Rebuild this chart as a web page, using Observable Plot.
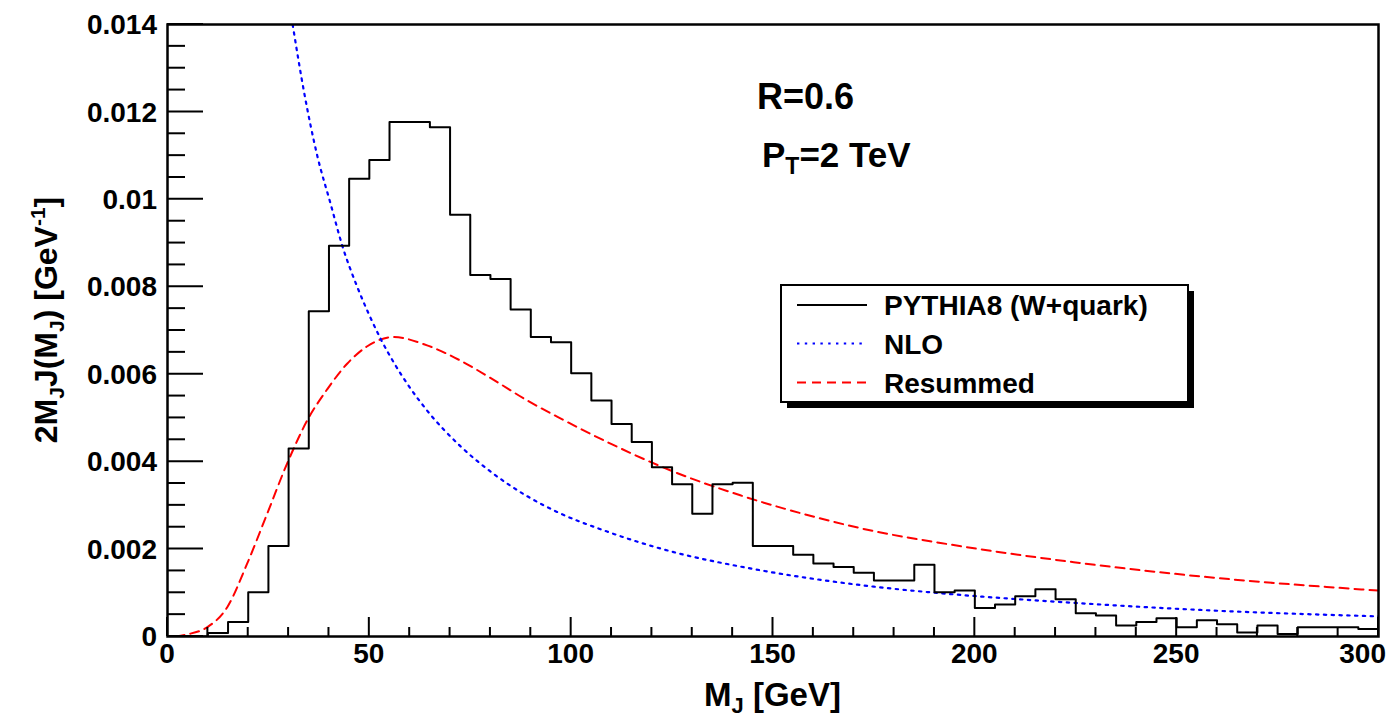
<!DOCTYPE html>
<html>
<head>
<meta charset="utf-8">
<script src="https://cdn.jsdelivr.net/npm/d3@7"></script>
<script src="https://cdn.jsdelivr.net/npm/@observablehq/plot@0.6"></script>
<style>
  html, body { margin: 0; padding: 0; background: #fff; overflow: hidden; }
  #chart svg { display: block; }
</style>
</head>
<body>
<div id="chart"></div>
<script>
// ---------- data ----------
const binWidth = 5; // GeV
const pythiaValues = [
  0, 0, 0.00008, 0.00033, 0.00101, 0.00207, 0.0043, 0.00744, 0.00894, 0.01047,
  0.0109, 0.01177, 0.01177, 0.01165, 0.00965, 0.00827, 0.00818, 0.00748, 0.00685, 0.00673,
  0.00602, 0.0054, 0.00486, 0.00445, 0.00387, 0.00348, 0.00281, 0.00348, 0.00352, 0.00207,
  0.00207, 0.00187, 0.00167, 0.00159, 0.00146, 0.00128, 0.00128, 0.00164, 0.00101, 0.00105,
  0.00065, 0.00073, 0.00092, 0.00108, 0.00085, 0.00053, 0.00048, 0.00025, 0.00033, 0.00042,
  0.00021, 0.00037, 0.00028, 0.00009, 0.00025, 0.00006, 0.00021, 0.00021, 0.00021, 0.00017
];
const nloX = [31, 33.8, 37.1, 40.4, 43.3, 47, 50, 52.8, 56.1, 60, 64.3, 72.6, 80.8, 89.1, 96.5, 108.9, 125.4, 141.9, 158.5, 175, 191.5, 224.5, 257.5, 300];
const nloY = [0.014, 0.01247, 0.0110, 0.0099, 0.00894, 0.0080, 0.00735, 0.00681, 0.00626, 0.0057, 0.00517, 0.00435, 0.00372, 0.00321, 0.00285, 0.0024, 0.00193, 0.0016, 0.00134, 0.00114, 0.00099, 0.00077, 0.0006, 0.00046];
const resX = [2, 5, 9.8, 14.8, 19.7, 24.7, 29.6, 34.6, 39.6, 44.5, 49.5, 56, 64.3, 72.6, 80.8, 89.1, 96.5, 108.9, 125.4, 141.9, 158.5, 175, 191.5, 224.5, 257.5, 300];
const resY = [0, 0.00005, 0.00021, 0.00067, 0.00166, 0.00281, 0.00395, 0.00494, 0.00566, 0.00624, 0.00664, 0.00685, 0.00666, 0.00631, 0.00587, 0.0054, 0.00503, 0.00445, 0.00377, 0.00323, 0.00278, 0.00241, 0.00214, 0.0017, 0.00136, 0.00105];
const xTicks = [0, 50, 100, 150, 200, 250, 300];
const xTickLabels = ["0", "50", "100", "150", "200", "250", "300"];
const yTicks = [0, 0.002, 0.004, 0.006, 0.008, 0.01, 0.012, 0.014];
const yTickLabels = ["0", "0.002", "0.004", "0.006", "0.008", "0.01", "0.012", "0.014"];
const legendLabels = ["PYTHIA8 (W+quark)", "NLO", "Resummed"];
const legendColors = ["black", "blue", "red"];

// ---------- derived tables ----------
const histPts = [];
pythiaValues.forEach((v, i) => {
  histPts.push({x: i * binWidth, y: v});
  histPts.push({x: (i + 1) * binWidth, y: v});
});
const nlo = nloX.map((x, i) => ({x, y: nloY[i]}));
const res = resX.map((x, i) => ({x, y: resY[i]}));

const FONT = "'Liberation Sans', Arial, Helvetica, sans-serif";
const dashes = {black: null, blue: "2.4,5.4", red: "9,6"};

function ticksMark(index, scales, values, dim) {
  const g = d3.create("svg:g").attr("stroke", "black").attr("stroke-width", 2);
  const x = scales.x, y = scales.y;
  const yb = dim.height - dim.marginBottom, xl = dim.marginLeft;
  const xMinor = d3.range(0, 301, 10);
  for (const t of xMinor) {
    const major = t % 50 === 0;
    g.append("line").attr("x1", x(t)).attr("x2", x(t)).attr("y1", yb).attr("y2", yb - (major ? 19 : 9));
  }
  const yMinor = d3.range(0, 29).map(k => k * 0.0005);
  yMinor.forEach((t, k) => {
    const major = k % 4 === 0;
    g.append("line").attr("x1", xl).attr("x2", xl + (major ? 36 : 18)).attr("y1", y(t)).attr("y2", y(t));
  });
  return g.node();
}

function decorMark(index, scales, values, dim) {
  const g = d3.create("svg:g").attr("font-family", FONT).attr("font-weight", "bold")
    .attr("fill", "black").attr("text-anchor", "start");
  const x = scales.x, y = scales.y;
  // y tick labels
  yTicks.forEach((t, i) => {
    g.append("text").attr("x", dim.marginLeft - 10).attr("y", y(t)).attr("dy", "0.36em")
      .attr("text-anchor", "end").attr("font-size", 28).text(yTickLabels[i]);
  });
  // x tick labels
  xTicks.forEach((t, i) => {
    const last = i === xTicks.length - 1;
    g.append("text").attr("x", last ? dim.width - 1 : x(t)).attr("y", dim.height - dim.marginBottom + 27)
      .attr("text-anchor", last ? "end" : "middle").attr("font-size", 28).text(xTickLabels[i]);
  });
  // x title
  const cx = (dim.marginLeft + dim.width - dim.marginRight) / 2;
  const xt = g.append("text").attr("x", cx).attr("y", 706).attr("text-anchor", "middle").attr("font-size", 33);
  xt.append("tspan").text("M");
  xt.append("tspan").attr("font-size", 22).attr("dy", 7).text("J");
  xt.append("tspan").attr("dy", -7).text(" [GeV]");
  // y title
  const cy = (dim.marginTop + dim.height - dim.marginBottom) / 2;
  const yt = g.append("text").attr("transform", `translate(57,${cy - 10}) rotate(-90)`).attr("text-anchor", "middle").attr("font-size", 32);
  yt.append("tspan").text("2M");
  yt.append("tspan").attr("font-size", 21).attr("dy", 7).text("J");
  yt.append("tspan").attr("dy", -7).text("J(M");
  yt.append("tspan").attr("font-size", 21).attr("dy", 7).text("J");
  yt.append("tspan").attr("dy", -7).text(") [GeV");
  yt.append("tspan").attr("font-size", 21).attr("dy", -12).text("-1");
  yt.append("tspan").attr("dy", 12).text("]");
  // annotations
  g.append("text").attr("x", 757).attr("y", 109).attr("font-size", 36).text("R=0.6");
  const pt = g.append("text").attr("x", 762).attr("y", 167).attr("font-size", 35);
  pt.append("tspan").text("P");
  pt.append("tspan").attr("font-size", 23).attr("dy", 7).text("T");
  pt.append("tspan").attr("dy", -7).text("=2 TeV");
  // legend
  const bx = 781, by = 285, bw = 407, bh = 117;
  g.append("rect").attr("x", bx + 6).attr("y", by + 6).attr("width", bw).attr("height", bh).attr("fill", "black");
  g.append("rect").attr("x", bx).attr("y", by).attr("width", bw).attr("height", bh)
    .attr("fill", "white").attr("stroke", "black").attr("stroke-width", 2);
  const rows = [305, 343.5, 382.5];
  legendLabels.forEach((lab, i) => {
    g.append("line").attr("x1", 797).attr("x2", 867).attr("y1", rows[i]).attr("y2", rows[i])
      .attr("stroke", legendColors[i]).attr("stroke-width", 2)
      .attr("stroke-dasharray", dashes[legendColors[i]]);
    g.append("text").attr("x", 884).attr("y", rows[i] + 10).attr("font-size", 28).text(lab);
  });
  return g.node();
}

const chart = Plot.plot({
  width: 1387,
  height: 716,
  marginLeft: 167,
  marginRight: 9,
  marginTop: 24,
  marginBottom: 80,
  style: {fontFamily: FONT, background: "white", overflow: "visible"},
  x: {domain: [0, 300], axis: null},
  y: {domain: [0, 0.014], axis: null},
  marks: [
    Plot.line(res, {x: "x", y: "y", stroke: "red", strokeWidth: 2, strokeDasharray: dashes.red, curve: "monotone-x", clip: true}),
    Plot.line(nlo, {x: "x", y: "y", stroke: "blue", strokeWidth: 2.2, strokeDasharray: dashes.blue, curve: "monotone-x", clip: true}),
    Plot.line(histPts, {x: "x", y: "y", stroke: "black", strokeWidth: 2, clip: true}),
    ticksMark,
    Plot.frame({stroke: "black", strokeWidth: 2.5}),
    decorMark
  ]
});
document.getElementById("chart").append(chart);
</script>
</body>
</html>
